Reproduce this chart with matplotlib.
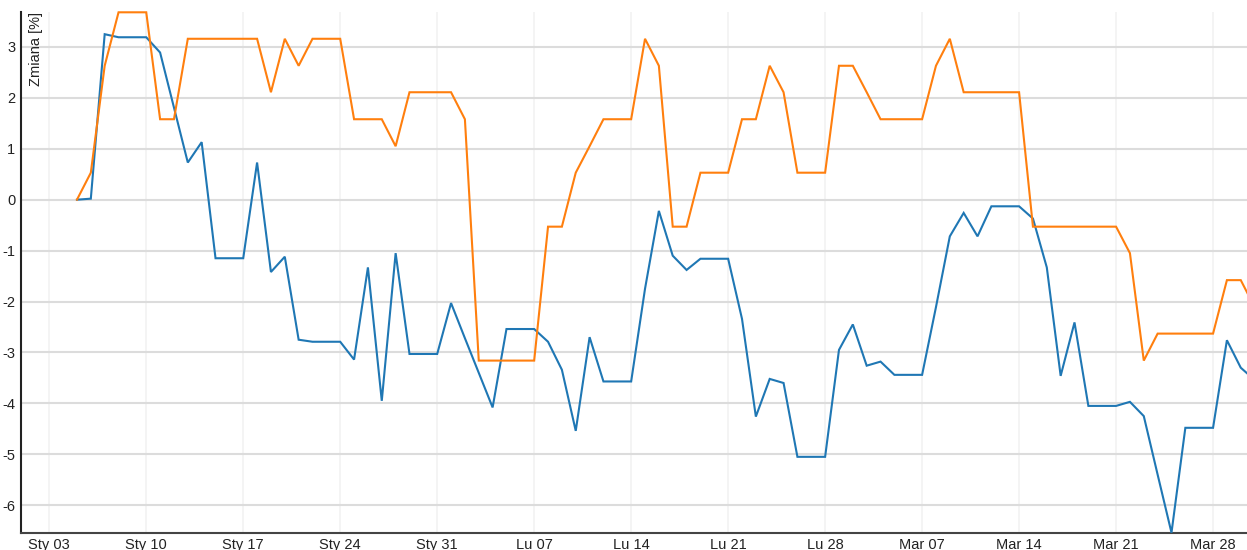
import datetime as dt
import numpy as np
import matplotlib
matplotlib.use("Agg")
import matplotlib.pyplot as plt
import matplotlib.dates as mdates

plt.rcParams["font.family"] = ["Liberation Sans", "DejaVu Sans"]

# daily series, 2021-01-05 .. 2021-03-31
start_date = dt.date(2021, 1, 5)

blue_values = [
    0.00, 0.02, 3.25, 3.19, 3.19, 3.19, 2.89, 1.81, 0.73, 1.13,
    -1.15, -1.15, -1.15, 0.73, -1.42, -1.12, -2.75, -2.79, -2.79, -2.79,
    -3.14, -1.33, -3.95, -1.05, -3.03, -3.03, -3.03, -2.03, -2.72, -3.40,
    -4.08, -2.54, -2.54, -2.54, -2.79, -3.34, -4.54, -2.70, -3.57, -3.57,
    -3.57, -1.75, -0.22, -1.10, -1.38, -1.16, -1.16, -1.16, -2.34, -4.26,
    -3.52, -3.60, -5.05, -5.05, -5.05, -2.95, -2.45, -3.26, -3.18, -3.44,
    -3.44, -3.44, -2.11, -0.72, -0.26, -0.72, -0.13, -0.13, -0.13, -0.37,
    -1.33, -3.46, -2.41, -4.05, -4.05, -4.05, -3.97, -4.25, -5.40, -6.54,
    -4.48, -4.48, -4.48, -2.76, -3.30, -3.54,
]

orange_values = [
    0.00, 0.53, 2.63, 3.68, 3.68, 3.68, 1.58, 1.58, 3.16, 3.16,
    3.16, 3.16, 3.16, 3.16, 2.11, 3.16, 2.63, 3.16, 3.16, 3.16,
    1.58, 1.58, 1.58, 1.05, 2.11, 2.11, 2.11, 2.11, 1.58, -3.16,
    -3.16, -3.16, -3.16, -3.16, -0.53, -0.53, 0.53, 1.05, 1.58, 1.58,
    1.58, 3.16, 2.63, -0.53, -0.53, 0.53, 0.53, 0.53, 1.58, 1.58,
    2.63, 2.11, 0.53, 0.53, 0.53, 2.63, 2.63, 2.11, 1.58, 1.58,
    1.58, 1.58, 2.63, 3.16, 2.11, 2.11, 2.11, 2.11, 2.11, -0.53,
    -0.53, -0.53, -0.53, -0.53, -0.53, -0.53, -1.05, -3.16, -2.63, -2.63,
    -2.63, -2.63, -2.63, -1.58, -1.58, -2.11,
]

tick_dates = [dt.date(2021, 1, 3) + dt.timedelta(weeks=i) for i in range(13)]
tick_labels = ["Sty 03", "Sty 10", "Sty 17", "Sty 24", "Sty 31", "Lu 07", "Lu 14",
               "Lu 21", "Lu 28", "Mar 07", "Mar 14", "Mar 21", "Mar 28"]
y_ticks = [-6, -5, -4, -3, -2, -1, 0, 1, 2, 3]
y_label = "Zmiana [%]"

dates = [start_date + dt.timedelta(days=i) for i in range(len(blue_values))]

fig = plt.figure(figsize=(12.47, 5.5), dpi=100)
ax = fig.add_axes([21 / 1247, 17.3 / 550, 1 - 21 / 1247, 520.4 / 550])

ax.plot(dates, blue_values, color="#1f77b4", lw=1.5, solid_joinstyle="miter",
        zorder=3, clip_on=False)
ax.plot(dates, orange_values, color="#ff7f0e", lw=1.5, solid_joinstyle="miter",
        zorder=3, clip_on=False)

x0 = mdates.date2num(dt.date(2021, 1, 3))
ax.set_xlim(x0 - 2.04, x0 + 86.45)
ax.set_ylim(min(blue_values), max(orange_values))

ax.set_xticks(tick_dates)
ax.set_xticklabels(tick_labels)
ax.set_yticks(y_ticks)
ax.set_yticklabels([str(v) for v in y_ticks])

ax.tick_params(axis="both", length=0, labelsize=10.5, colors="#222")
ax.tick_params(axis="x", pad=4)
ax.tick_params(axis="y", pad=4)

ax.grid(axis="y", color="#dcdcdc", lw=1.5, zorder=0)
ax.grid(axis="x", color="#f3f3f3", lw=1.3, zorder=0)
ax.set_axisbelow(True)

for side in ("top", "right"):
    ax.spines[side].set_visible(False)
ax.spines["left"].set_color("#222")
ax.spines["left"].set_linewidth(1.5)
ax.spines["bottom"].set_color("#444")
ax.spines["bottom"].set_linewidth(1.5)

ax.annotate(y_label, xy=(0, 1), xycoords="axes fraction", xytext=(10.5, 0),
            textcoords="offset points", rotation=90, ha="center", va="top",
            fontsize=10.5, color="#222")

fig.savefig("out.png", dpi=100)
